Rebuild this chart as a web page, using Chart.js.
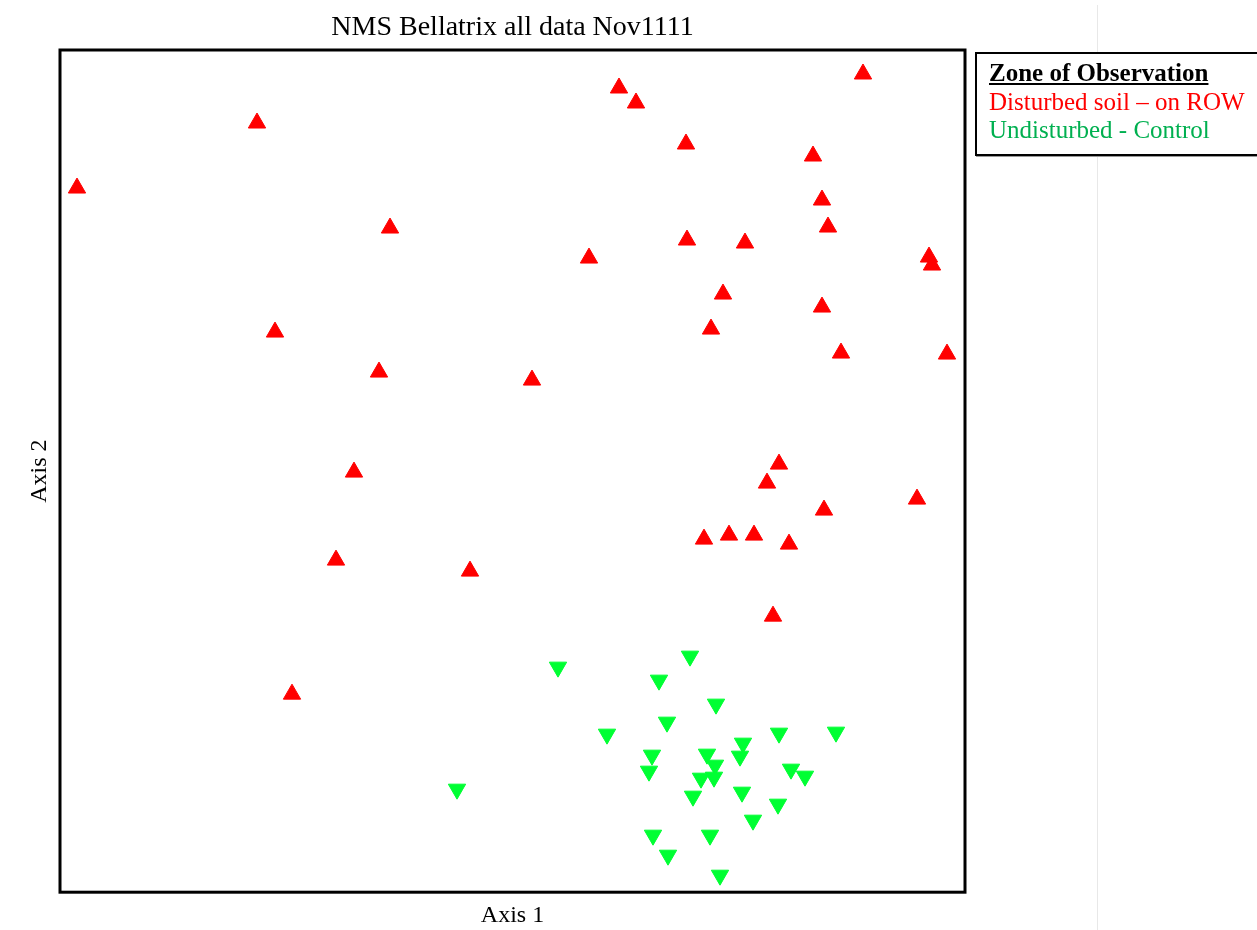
<!DOCTYPE html>
<html lang="en">
<head>
    <meta charset="UTF-8">
    <title>NMS Bellatrix all data Nov1111</title>
    <script src="https://cdn.jsdelivr.net/npm/chart.js"></script>
    <style>
        body { margin: 0; background: #fff; overflow: hidden; }
        #wrap { position: relative; width: 1257px; height: 930px; }
        #sep { position: absolute; left: 1097px; top: 5px; width: 1px; height: 925px; background: #e8e8e8; }
        #legend {
            position: absolute; left: 975px; top: 52px; width: 300px; height: 104px;
            border: 2px solid #000; box-shadow: 1px 1px 0 #999; background: #fff;
            font-family: 'Liberation Serif', 'Times New Roman', serif; font-size: 25px;
            line-height: 28.5px; padding: 5px 0 0 12px; box-sizing: border-box;
        }
        #legend .head { font-weight: bold; text-decoration: underline; color: #000; }
        #legend .red { color: #ff0000; }
        #legend .green { color: #00b050; }
    </style>
</head>
<body>
<div id="wrap">
    <div id="sep"></div>
    <canvas id="myChart"></canvas>
    <div id="legend">
        <div class="head">Zone of Observation</div>
        <div class="red">Disturbed soil – on ROW</div>
        <div class="green">Undisturbed - Control</div>
    </div>
</div>

<script>
    // NMS scores (arbitrary axis units)
    const disturbedX = [17, 197, 330, 215, 319, 294, 276, 410, 232, 472, 529, 559, 576, 626, 627, 685, 663, 651,
        803, 753, 762, 768, 762, 781, 869, 872, 887, 719, 707, 764, 857, 644, 669, 694, 729, 713];
    const disturbedY = [704, 769, 664, 560, 520, 420, 332, 321, 198, 512, 634, 804, 789, 748, 652, 649, 598, 563,
        818, 736, 692, 665, 585, 539, 635, 627, 538, 428, 409, 382, 393, 353, 357, 357, 348, 276];

    const controlX = [498, 630, 599, 656, 607, 547, 592, 589, 647, 655, 641, 654, 633, 683, 680, 719, 776, 731,
        745, 682, 718, 693, 593, 650, 608, 660, 397];
    const controlY = [225, 236, 212, 188, 170, 158, 137, 121, 138, 127, 114, 115, 96, 149, 136, 159, 160, 123,
        116, 100, 88, 72, 57, 57, 37, 17, 103];

    const toPoints = (xs, ys) => xs.map((x, i) => ({ x: x, y: ys[i] }));

    // frame around the plot area
    const frame = {
        id: 'frame',
        afterDraw(chart) {
            const a = chart.chartArea;
            const ctx = chart.ctx;
            ctx.save();
            ctx.strokeStyle = '#000';
            ctx.lineWidth = 3;
            ctx.strokeRect(a.left, a.top, a.right - a.left, a.bottom - a.top);
            ctx.restore();
        }
    };

    const serif = 'Liberation Serif';
    const ctx = document.getElementById('myChart').getContext('2d');
    const myChart = new Chart(ctx, {
        type: 'scatter',
        data: {
            datasets: [{
                label: 'Disturbed soil – on ROW',
                data: toPoints(disturbedX, disturbedY),
                pointStyle: 'triangle',
                pointRadius: 10,
                pointHoverRadius: 10,
                backgroundColor: '#ff0000',
                borderColor: '#ff0000',
                borderWidth: 1,
                clip: false
            }, {
                label: 'Undisturbed - Control',
                data: toPoints(controlX, controlY),
                pointStyle: 'triangle',
                rotation: 180,
                pointRadius: 10,
                pointHoverRadius: 10,
                backgroundColor: '#00ff33',
                borderColor: '#00ff33',
                borderWidth: 1,
                clip: false
            }]
        },
        options: {
            responsive: true,
            maintainAspectRatio: false,
            animation: false,
            layout: { padding: { left: 0, right: 292, top: 0, bottom: 0 } },
            plugins: {
                legend: { display: false },
                tooltip: { enabled: false },
                title: {
                    display: true,
                    text: 'NMS Bellatrix all data Nov1111',
                    fullSize: false,
                    color: '#000',
                    font: { family: serif, size: 28, weight: 'normal' },
                    padding: { top: 11, bottom: 5.4 }
                }
            },
            scales: {
                x: {
                    min: 0, max: 905,
                    grid: { display: false, drawTicks: false },
                    border: { display: false },
                    ticks: { display: false },
                    title: {
                        display: true, text: 'Axis 1', color: '#000',
                        font: { family: serif, size: 24 },
                        padding: { top: 9, bottom: 0 }
                    }
                },
                y: {
                    min: 0, max: 842,
                    grid: { display: false, drawTicks: false },
                    border: { display: false },
                    ticks: { display: false },
                    title: {
                        display: true, text: 'Axis 2', color: '#000',
                        font: { family: serif, size: 24 },
                        padding: { top: 25.6, bottom: 5.6 }
                    }
                }
            }
        },
        plugins: [frame]
    });
</script>
</body>
</html>
